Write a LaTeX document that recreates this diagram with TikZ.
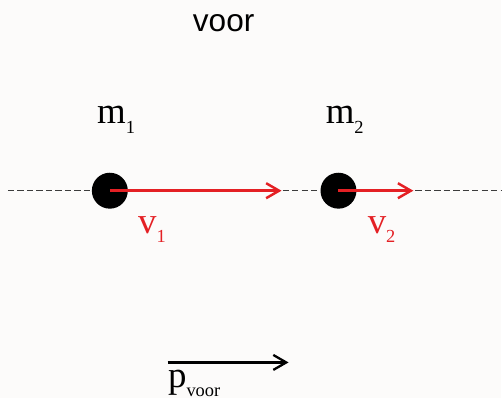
\documentclass[tikz,border=0pt]{standalone}
\usepackage{fontspec}
\setmainfont{Liberation Serif}
\newfontfamily\headfont{Liberation Sans}
\usetikzlibrary{arrows.meta,positioning}
\definecolor{velred}{RGB}{228,32,36}
\definecolor{bgcol}{RGB}{252,251,250}
\definecolor{axisgray}{RGB}{60,60,60}
\newcommand{\lowidx}[1]{\raisebox{-0.25em}{\fontsize{10.5}{10.5}\selectfont #1}}
\tikzset{
  titletext/.style={font=\headfont\fontsize{18}{20}\selectfont,inner sep=0pt},
  massnode/.style={circle,fill=black,minimum size=0.72cm,inner sep=0pt},
  masslabel/.style={font=\fontsize{21}{24}\selectfont,inner sep=0pt},
  vellabel/.style={masslabel,text=velred},
  axisline/.style={dashed,dash pattern=on 3.6pt off 1.8pt,line width=0.9pt,color=axisgray},
  velarr/.style={-{Straight Barb[length=2.6mm,width=3mm]},line width=1.4pt,color=velred},
  momarr/.style={-{Straight Barb[length=2.6mm,width=3mm]},line width=1.3pt,color=black}
}

\begin{document}
\begin{tikzpicture}[x=0.02cm,y=-0.02cm]

  %% Canvas
  \path[fill=bgcol] (0,0) rectangle (502,399);

  %% Title
  \node[titletext,anchor=base] (title) at (224,32) {voor};

  %% Axis
  \coordinate (axL) at (8,191);
  \coordinate (axR) at (502,191);
  \draw[axisline] (axL) -- (axR);

  %% Masses
  \node[massnode] (ball1) at (110,191) {};
  \node[massnode] (ball2) at (339,191) {};

  %% Velocity tips
  \coordinate (tip1) at (282,191);
  \coordinate (tip2) at (414,191);

  %% ── ARROWS ──────────────────────────────────────────────
  \draw[velarr] (ball1.center) -- (tip1);
  \draw[velarr] (ball2.center) -- (tip2);

  %% Labels
  \node[masslabel,anchor=base west] (lblm1) at (97,124) {m\lowidx{1}};
  \node[masslabel,anchor=base west] (lblm2) at (326,124) {m\lowidx{2}};
  \node[vellabel,anchor=base west] (lblv1) at (138,234) {v\lowidx{1}};
  \node[vellabel,anchor=base west] (lblv2) at (368,234) {v\lowidx{2}};

  %% Momentum
  \coordinate (momL) at (168,363);
  \coordinate (momR) at (289,363);
  \draw[momarr] (momL) -- (momR);
  \node[masslabel,anchor=base west] (lblp) at (168,388) {p\lowidx{voor}};

\end{tikzpicture}
\end{document}
